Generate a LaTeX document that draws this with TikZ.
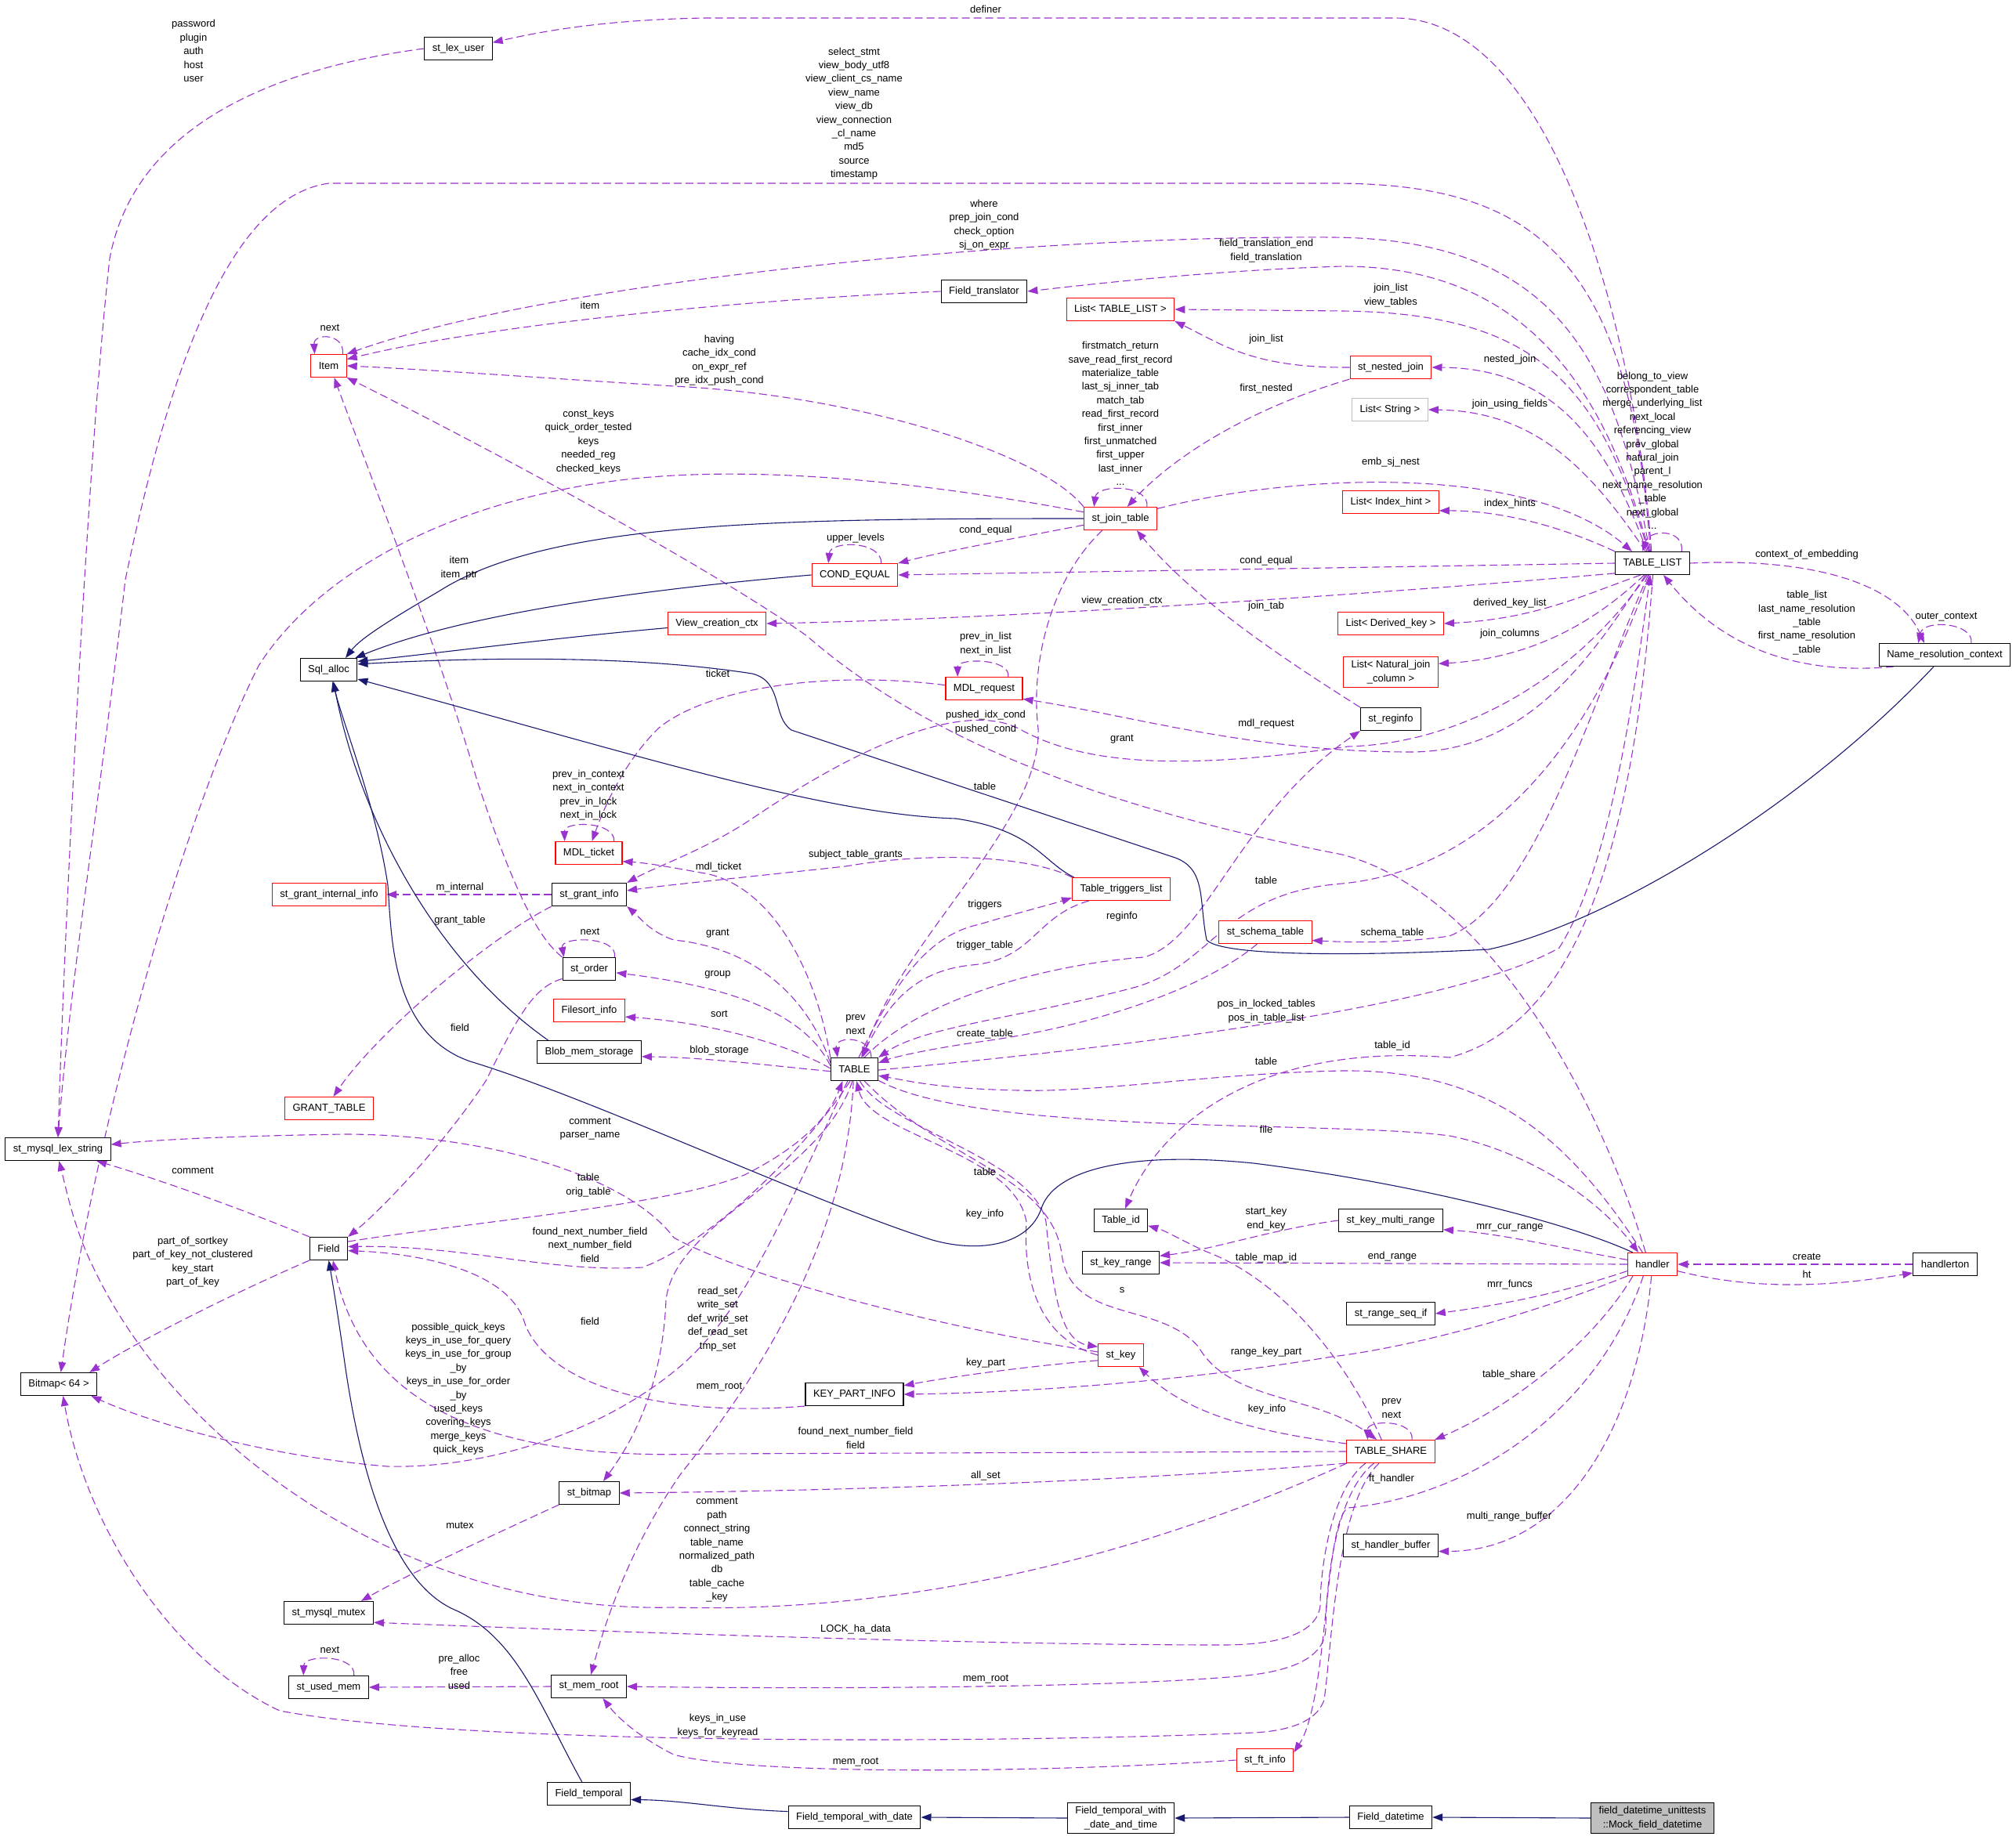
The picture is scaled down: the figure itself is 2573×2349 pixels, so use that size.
\documentclass[tikz,border=0pt]{standalone}
\usepackage{fontspec}
\setmainfont{Liberation Sans}
\usetikzlibrary{arrows.meta}
\definecolor{usecol}{HTML}{9A32CD}
\definecolor{inhcol}{HTML}{191970}
\definecolor{boxgrey}{HTML}{BFBFBF}
\newcommand\dxfont{\fontsize{13}{17.4}\selectfont}
\pgfdeclarelayer{paper}
\pgfdeclarelayer{edges}
\pgfsetlayers{paper,edges,main}

\begin{document}
\begin{tikzpicture}[
  x=1pt, y=-1pt,
  font=\dxfont,
  >={Triangle[length=13pt,width=9.5pt]},
  box/.style={draw=black, line width=1.1pt, fill=white, inner xsep=10pt,
              inner ysep=5pt, minimum height=29pt, align=center},
  redbox/.style={box, draw=red},
  greybox/.style={box, draw=boxgrey},
  use/.style={->, usecol, line width=1.1pt, dash pattern=on 10pt off 5pt},
  inh/.style={->, inhcol, line width=1.1pt},
  lbl/.style={align=center, inner sep=0pt},
]
  \begin{pgfonlayer}{paper}
    \fill[white] (0,0) rectangle (2573,2349);
  \end{pgfonlayer}
  \useasboundingbox (0,0) rectangle (2573,2349);

  % classes
  \node[box] (lexuser) at (585,62) {st\_lex\_user};
  \node[redbox] (item) at (419.5,467) {Item};
  \node[box] (fieldtr) at (1256,372) {Field\_translator};
  \node[redbox] (listtl) at (1430,395) {List< TABLE\_LIST >};
  \node[redbox] (nestjoin) at (1775,469) {st\_nested\_join};
  \node[greybox] (liststr) at (1774,523) {List< String >};
  \node[redbox] (listidx) at (1775,641) {List< Index\_hint >};
  \node[redbox] (jointab) at (1430,662) {st\_join\_table};
  \node[redbox] (condeq) at (1091,734) {COND\_EQUAL};
  \node[box] (tlist) at (2109,719) {TABLE\_LIST};
  \node[redbox] (viewctx) at (915,796) {View\_creation\_ctx};
  \node[redbox] (listdk) at (1775,796) {List< Derived\_key >};
  \node[redbox] (listnjc) at (1775,858) {List< Natural\_join\\\_column >};
  \node[box] (nrctx) at (2482,836) {Name\_resolution\_context};
  \node[box] (sqlalloc) at (419.5,855) {Sql\_alloc};
  \node[redbox] (mdlreq) at (1256,879) {MDL\_request};
  \node[box] (reginfo) at (1775,918) {st\_reginfo};
  \node[redbox] (mdlticket) at (751.5,1089) {MDL\_ticket};
  \node[redbox] (trigs) at (1431,1135) {Table\_triggers\_list};
  \node[redbox] (grantint) at (420,1142) {st\_grant\_internal\_info};
  \node[box] (grantinfo) at (752,1142) {st\_grant\_info};
  \node[redbox] (schema) at (1615,1190) {st\_schema\_table};
  \node[box] (order) at (752,1237) {st\_order};
  \node[redbox] (filesort) at (752,1290) {Filesort\_info};
  \node[box] (blob) at (752,1343) {Blob\_mem\_storage};
  \node[box] (tbl) at (1090.5,1365) {TABLE};
  \node[redbox] (granttab) at (420,1415) {GRANT\_TABLE};
  \node[box] (lexstr) at (74,1467) {st\_mysql\_lex\_string};
  \node[box] (tableid) at (1430.5,1558) {Table\_id};
  \node[box] (keymr) at (1775,1558) {st\_key\_multi\_range};
  \node[box] (field) at (419.5,1594) {Field};
  \node[box] (keyrange) at (1430.5,1612) {st\_key\_range};
  \node[redbox] (handler) at (2109,1614) {handler};
  \node[box] (hton) at (2482.5,1614) {handlerton};
  \node[box] (rangeseq) at (1775,1677) {st\_range\_seq\_if};
  \node[redbox] (stkey) at (1430.5,1730) {st\_key};
  \node[box] (bitmap) at (75,1767) {Bitmap< 64 >};
  \node[box] (kpi) at (1090.5,1780) {KEY\_PART\_INFO};
  \node[redbox] (tshare) at (1775,1853) {TABLE\_SHARE};
  \node[box] (stbitmap) at (752,1906) {st\_bitmap};
  \node[box] (hbuf) at (1775,1973) {st\_handler\_buffer};
  \node[box] (mutex) at (419.5,2059) {st\_mysql\_mutex};
  \node[box] (usedmem) at (419.5,2154) {st\_used\_mem};
  \node[box] (memroot) at (751.5,2153) {st\_mem\_root};
  \node[redbox] (ftinfo) at (1614.5,2247) {st\_ft\_info};
  \node[box] (ftemp) at (751.5,2290) {Field\_temporal};
  \node[box] (ftwd) at (1090.5,2320) {Field\_temporal\_with\_date};
  \node[box] (ftwdt) at (1430.5,2321) {Field\_temporal\_with\\\_date\_and\_time};
  \node[box] (fdt) at (1775,2320) {Field\_datetime};
  \node[box, fill=boxgrey] (mock) at (2109,2321) {field\_datetime\_unittests\\::Mock\_field\_datetime};

  \begin{pgfonlayer}{edges}
  % members
  \draw[use] (lexuser.west) .. controls (330,90) and (170,170) .. (140,330) .. controls (110,600) and (82,1200) .. (lexstr.north);
  \draw[use] (tlist.95) .. controls (2090,450) and (1990,23) .. (1780,23) -- (900,23) .. controls (780,25) and (700,38) .. (lexuser.10);
  \draw[use] (tlist.100) .. controls (2080,320) and (1950,234) .. (1700,234) -- (420,234) .. controls (300,250) and (220,450) .. (160,740) .. controls (130,1000) and (90,1250) .. (lexstr.north);
  \draw[use] (jointab.170) .. controls (1150,610) and (950,595) .. (800,612) .. controls (560,640) and (400,740) .. (330,850) .. controls (230,1050) and (120,1450) .. (bitmap.80);
  \draw[use] (tlist.103) .. controls (2060,450) and (1980,305) .. (1700,303) .. controls (1300,300) and (700,360) .. (item.north east);
  \draw[use] (tlist.106) .. controls (2050,500) and (1950,340) .. (1713,340) .. controls (1550,345) and (1400,362) .. (fieldtr.east);
  \draw[use] (fieldtr.west) .. controls (900,385) and (600,420) .. (item.20);
  \draw[use] (tlist.110) .. controls (2040,480) and (1950,400) .. (1713,397) -- (listtl.east);
  \draw[use] (nestjoin.west) .. controls (1600,470) and (1560,440) .. (listtl.south east);
  \draw[use] (tlist.115) .. controls (2050,560) and (1980,470) .. (nestjoin.east);
  \draw[use] (nestjoin.south west) .. controls (1600,520) and (1500,580) .. (jointab.60);
  \draw[use] (tlist.120) .. controls (2030,600) and (1960,525) .. (liststr.east);
  \draw[use] (jointab.15) .. controls (1650,605) and (1950,590) .. (tlist.150);
  \draw[use] (tlist.north west) .. controls (2010,680) and (1930,652) .. (listidx.350);
  \draw[use] (tlist.west) -- (condeq.east);
  \draw[use] (jointab.190) .. controls (1280,690) and (1200,705) .. (condeq.north east);
  \draw[use] (condeq.24) .. controls (1125,690) and (1060,690) .. (condeq.156);
  \draw[use] (jointab.24) .. controls (1468,618) and (1400,618) .. (jointab.156);
  \draw[use] (jointab.north west) .. controls (1330,580) and (1100,505) .. (860,493) .. controls (700,483) and (550,472) .. (item.east);
  \draw[use] (item.40) .. controls (440,425) and (400,425) .. (item.140);
  \draw[use] (order.north west) .. controls (690,1200) and (660,1150) .. (610,1000) .. controls (560,830) and (470,600) .. (item.-65);
  \draw[use] (order.25) .. controls (790,1195) and (715,1195) .. (order.155);
  \draw[use] (grantinfo.west) -- (grantint.east);
  \draw[use] (grantinfo.south west) .. controls (620,1200) and (480,1320) .. (granttab.70);
  \draw[use] (mdlticket.25) .. controls (785,1048) and (720,1048) .. (mdlticket.154);
  \draw[use] (mdlreq.175) .. controls (1050,855) and (900,880) .. (840,930) .. controls (800,970) and (775,1020) .. (mdlticket.75);
  \draw[use] (mdlreq.26) .. controls (1290,840) and (1222,840) .. (mdlreq.156);
  \draw[use] (tlist.240) .. controls (2030,840) and (1950,960) .. (1800,960) .. controls (1600,960) and (1450,915) .. (mdlreq.-15);
  \draw[use] (tlist.245) .. controls (2000,880) and (1850,950) .. (1720,953) .. controls (1500,985) and (1380,975) .. (1300,930) .. controls (1230,895) and (1100,950) .. (960,1045) .. controls (900,1085) and (840,1105) .. (grantinfo.north east);
  \draw[use] (jointab.213) .. controls (1340,740) and (1315,850) .. (1325,930) .. controls (1330,1050) and (1150,1200) .. (tbl.55);
  \draw[use] (tlist.195) .. controls (1800,755) and (1300,790) .. (viewctx.east);
  \draw[use] (reginfo.north west) .. controls (1620,830) and (1520,760) .. (jointab.-36);
  \draw[use] (tlist.225) .. controls (2020,760) and (1960,790) .. (listdk.east);
  \draw[use] (tlist.235) .. controls (2040,790) and (1960,840) .. (listnjc.10);
  \draw[use] (tlist.east) .. controls (2300,712) and (2420,740) .. (nrctx.150);
  \draw[use] (nrctx.193) .. controls (2300,862) and (2200,830) .. (tlist.-47);
  \draw[use] (nrctx.24) .. controls (2520,795) and (2455,790) .. (nrctx.156);
  \draw[use] (tlist.22) .. controls (2150,675) and (2105,675) .. (tlist.130);
  \draw[use] (tlist.250) .. controls (2030,900) and (1960,1150) .. (1850,1195) .. controls (1780,1205) and (1720,1203) .. (schema.-10);
  \draw[use] (tlist.255) .. controls (2030,950) and (1900,1110) .. (1713,1128) .. controls (1560,1140) and (1550,1230) .. (1450,1260) .. controls (1300,1300) and (1180,1310) .. (tbl.north east);
  \draw[use] (tbl.50) .. controls (1180,1270) and (1350,1230) .. (1460,1222) .. controls (1540,1200) and (1580,1040) .. (reginfo.south west);
  \draw[use] (trigs.200) .. controls (1320,1170) and (1320,1225) .. (1240,1232) .. controls (1160,1240) and (1130,1290) .. (tbl.60);
  \draw[use] (tbl.70) .. controls (1140,1260) and (1180,1195) .. (1250,1180) .. controls (1300,1165) and (1340,1155) .. (trigs.190);
  \draw[use] (trigs.north west) .. controls (1320,1095) and (1200,1085) .. (1079,1106) .. controls (950,1120) and (850,1130) .. (grantinfo.6);
  \draw[use] (tbl.north west) .. controls (1040,1230) and (980,1130) .. (900,1115) .. controls (860,1108) and (830,1102) .. (mdlticket.-14);
  \draw[use] (tbl.165) .. controls (1030,1270) and (960,1210) .. (860,1200) .. controls (830,1190) and (815,1170) .. (grantinfo.south east);
  \draw[use] (tbl.172) .. controls (1030,1300) and (950,1262) .. (order.-8);
  \draw[use] (tbl.178) .. controls (1000,1330) and (900,1305) .. (filesort.-10);
  \draw[use] (tbl.185) .. controls (980,1360) and (900,1350) .. (blob.-5);
  \draw[use] (tbl.35) .. controls (1112,1322) and (1065,1322) .. (tbl.145);
  \draw[use] (tbl.-2) .. controls (1400,1340) and (1850,1290) .. (1990,1210) .. controls (2060,1100) and (2090,850) .. (tlist.-100);
  \draw[use] (tbl.-25) .. controls (1250,1450) and (1700,1430) .. (1850,1450) .. controls (1950,1470) and (2040,1530) .. (handler.140);
  \draw[use] (handler.130) .. controls (2000,1450) and (1900,1365) .. (1713,1367) .. controls (1550,1370) and (1400,1395) .. (1300,1392) .. controls (1200,1390) and (1160,1380) .. (tbl.-15);
  \draw[use] (handler.120) .. controls (2040,1400) and (1900,1140) .. (1713,1091) .. controls (1450,1040) and (1200,960) .. (1030,812) .. controls (900,720) and (600,560) .. (item.south east);
  \draw[use] (tlist.-88) .. controls (2090,1000) and (2040,1300) .. (1850,1350) .. controls (1600,1330) and (1480,1440) .. (tableid.70);
  \draw[use] (tbl.-65) .. controls (1130,1440) and (1320,1480) .. (1335,1560) .. controls (1345,1660) and (1355,1712) .. (stkey.160);
  \draw[use] (stkey.180) .. controls (1330,1710) and (1305,1640) .. (1310,1560) .. controls (1295,1470) and (1110,1450) .. (tbl.-80);
  \draw[use] (tbl.-50) .. controls (1200,1480) and (1340,1500) .. (1355,1600) .. controls (1365,1690) and (1480,1660) .. (1530,1720) .. controls (1570,1790) and (1680,1780) .. (tshare.140);
  \draw[use] (schema.-125) .. controls (1540,1260) and (1400,1310) .. (1250,1330) .. controls (1180,1340) and (1140,1350) .. (tbl.15);
  \draw[use] (keymr.west) .. controls (1620,1570) and (1550,1595) .. (keyrange.10);
  \draw[use] (handler.west) -- (keyrange.east);
  \draw[use] (tshare.128) .. controls (1730,1760) and (1650,1640) .. (1540,1598) .. controls (1510,1585) and (1490,1572) .. (tableid.-11);
  \draw[use] (tshare.170) .. controls (1620,1830) and (1520,1810) .. (stkey.-33);
  \draw[use] (stkey.193) .. controls (1300,1745) and (1200,1760) .. (kpi.10);
  \draw[use] (handler.south west) .. controls (1950,1680) and (1800,1720) .. (1700,1732) .. controls (1500,1765) and (1300,1778) .. (kpi.east);
  \draw[use] (kpi.south west) .. controls (850,1810) and (700,1770) .. (670,1690) .. controls (650,1620) and (530,1600) .. (field.-6);
  \draw[use] (tbl.-110) .. controls (1040,1450) and (920,1580) .. (820,1618) .. controls (700,1625) and (600,1590) .. (field.6);
  \draw[use] (field.20) .. controls (600,1560) and (850,1540) .. (950,1500) .. controls (1030,1460) and (1060,1420) .. (tbl.-135);
  \draw[use] (order.200) .. controls (680,1260) and (660,1300) .. (620,1380) .. controls (560,1470) and (480,1550) .. (field.north east);
  \draw[use] (field.north west) .. controls (300,1540) and (200,1505) .. (lexstr.-17);
  \draw[use] (field.south west) .. controls (300,1650) and (180,1710) .. (bitmap.21);
  \draw[use] (tbl.-120) .. controls (1000,1550) and (950,1680) .. (860,1751) .. controls (750,1840) and (600,1875) .. (494,1872) .. controls (350,1860) and (200,1820) .. (bitmap.-20);
  \draw[use] (tbl.-100) .. controls (1050,1500) and (860,1560) .. (850,1660) .. controls (845,1780) and (800,1850) .. (stbitmap.40);
  \draw[use] (tbl.-95) .. controls (1080,1600) and (950,1780) .. (870,1880) .. controls (800,1980) and (770,2080) .. (memroot.80);
  \draw[use] (tshare.180) -- (900,1856) .. controls (600,1866) and (460,1780) .. (field.-70);
  \draw[use] (tshare.south west) .. controls (1450,1890) and (1100,1903) .. (stbitmap.east);
  \draw[use] (tshare.-165) .. controls (1450,1990) and (1150,2060) .. (860,2052) .. controls (520,2060) and (230,1850) .. (120,1620) .. controls (95,1570) and (85,1520) .. (lexstr.-85);
  \draw[use] (tshare.-155) .. controls (1700,1900) and (1685,2000) .. (1685,2050) .. controls (1680,2090) and (1620,2100) .. (1560,2100) .. controls (1300,2100) and (900,2088) .. (mutex.-12);
  \draw[use] (tshare.-145) .. controls (1700,1910) and (1692,2040) .. (1692,2080) .. controls (1690,2120) and (1640,2135) .. (1580,2140) .. controls (1400,2156) and (1000,2156) .. (memroot.east);
  \draw[use] (tshare.-135) .. controls (1705,1920) and (1700,2100) .. (1690,2170) .. controls (1680,2200) and (1640,2210) .. (1600,2212) .. controls (1300,2225) and (600,2230) .. (357,2184) .. controls (220,2120) and (110,1950) .. (bitmap.-70);
  \draw[use] (handler.-128) .. controls (2040,1800) and (1880,1910) .. (1720,1925) .. controls (1690,1945) and (1695,2170) .. (ftinfo.15);
  \draw[use] (ftinfo.west) .. controls (1300,2265) and (950,2265) .. (860,2240) .. controls (820,2220) and (790,2195) .. (memroot.-40);
  \draw[use] (stbitmap.south west) .. controls (650,1950) and (520,2010) .. (mutex.20);
  \draw[use] (memroot.west) -- (usedmem.east);
  \draw[use] (usedmem.25) .. controls (455,2112) and (388,2112) .. (usedmem.155);
  \draw[use] (tshare.29) .. controls (1805,1812) and (1745,1812) .. (tshare.153);
  \draw[use] (handler.-149) .. controls (2030,1720) and (1920,1800) .. (tshare.15);
  \draw[use] (handler.170) .. controls (2000,1595) and (1920,1575) .. (keymr.-10);
  \draw[use] (handler.-165) .. controls (1980,1655) and (1900,1668) .. (rangeseq.east);
  \draw[use] (handler.-95) .. controls (2090,1820) and (2000,1980) .. (hbuf.-7);
  \draw[use] (hton.west) -- (handler.east);
  \draw[use] (handler.-15) .. controls (2250,1650) and (2350,1640) .. (hton.195);
  \draw[use] (stkey.172) .. controls (1200,1695) and (950,1630) .. (860,1580) .. controls (800,1500) and (620,1448) .. (440,1448) .. controls (300,1450) and (200,1455) .. (lexstr.5);

  % inheritance
  \draw[inh] (mock.west) -- (fdt.east);
  \draw[inh] (fdt.west) -- (ftwdt.east);
  \draw[inh] (ftwdt.west) -- (ftwd.east);
  \draw[inh] (ftwd.175) .. controls (930,2310) and (870,2298) .. (ftemp.-8);
  \draw[inh] (ftemp.120) .. controls (690,2180) and (660,2090) .. (580,2055) .. controls (500,2020) and (460,1880) .. (440,1740) .. controls (430,1670) and (425,1640) .. (field.south);
  \draw[inh] (jointab.west) .. controls (1000,662) and (700,665) .. (560,755) .. controls (500,790) and (460,815) .. (sqlalloc.35);
  \draw[inh] (condeq.west) .. controls (850,750) and (600,780) .. (sqlalloc.24);
  \draw[inh] (viewctx.185) .. controls (700,815) and (550,835) .. (sqlalloc.16);
  \draw[inh] (nrctx.-133) .. controls (2300,1030) and (2050,1180) .. (1900,1212) .. controls (1750,1220) and (1560,1222) .. (1540,1200) .. controls (1530,1150) and (1540,1110) .. (1500,1095) -- (1010,932) .. controls (985,915) and (1000,870) .. (960,860) .. controls (800,835) and (600,840) .. (sqlalloc.11);
  \draw[inh] (trigs.166) .. controls (1330,1100) and (1320,1060) .. (1220,1045) .. controls (1050,1040) and (800,960) .. (sqlalloc.-18);
  \draw[inh] (blob.164) .. controls (560,1230) and (460,1050) .. (sqlalloc.-68);
  \draw[inh] (handler.149) .. controls (2000,1560) and (1800,1510) .. (1600,1485) .. controls (1450,1470) and (1350,1490) .. (1330,1540) .. controls (1315,1590) and (1250,1600) .. (1190,1583) .. controls (1050,1540) and (750,1400) .. (600,1355) .. controls (500,1320) and (500,1200) .. (495,1130) .. controls (480,1030) and (440,930) .. (sqlalloc.-72);
  \end{pgfonlayer}

  % member labels
  \node[lbl] (l-pw) at (247,65) {password\\plugin\\auth\\host\\user};
  \node[lbl] (l-definer) at (1258,12) {definer};
  \node[lbl] (l-view) at (1090,145) {select\_stmt\\view\_body\_utf8\\view\_client\_cs\_name\\view\_name\\view\_db\\view\_connection\\\_cl\_name\\md5\\source\\timestamp};
  \node[lbl] (l-where) at (1256,287) {where\\prep\_join\_cond\\check\_option\\sj\_on\_expr};
  \node[lbl] (l-ftrans) at (1616,320) {field\_translation\_end\\field\_translation};
  \node[lbl] (l-item) at (753,390) {item};
  \node[lbl] (l-joinlist) at (1775,377) {join\_list\\view\_tables};
  \node[lbl] (l-joinlist2) at (1616,433) {join\_list};
  \node[lbl] (l-nested) at (1927,459) {nested\_join};
  \node[lbl] (l-having) at (918,460) {having\\cache\_idx\_cond\\on\_expr\_ref\\pre\_idx\_push\_cond};
  \node[lbl] (l-firstmatch) at (1430,528) {firstmatch\_return\\save\_read\_first\_record\\materialize\_table\\last\_sj\_inner\_tab\\match\_tab\\read\_first\_record\\first\_inner\\first\_unmatched\\first\_upper\\last\_inner\\...};
  \node[lbl] (l-firstnested) at (1616,496) {first\_nested};
  \node[lbl] (l-usingf) at (1927,516) {join\_using\_fields};
  \node[lbl] (l-belong) at (2109,575) {belong\_to\_view\\correspondent\_table\\merge\_underlying\_list\\next\_local\\referencing\_view\\prev\_global\\natural\_join\\parent\_l\\next\_name\_resolution\\\_table\\next\_global\\...};
  \node[lbl] (l-constkeys) at (751,564) {const\_keys\\quick\_order\_tested\\keys\\needed\_reg\\checked\_keys};
  \node[lbl] (l-embsj) at (1775,590) {emb\_sj\_nest};
  \node[lbl] (l-idxhints) at (1927,643) {index\_hints};
  \node[lbl] (l-itemnext) at (421,418) {next};
  \node[lbl] (l-upper) at (1092,687) {upper\_levels};
  \node[lbl] (l-condeq1) at (1258,677) {cond\_equal};
  \node[lbl] (l-condeq2) at (1616,716) {cond\_equal};
  \node[lbl] (l-ctxemb) at (2306,708) {context\_of\_embedding};
  \node[lbl] (l-itemptr) at (586,725) {item\\item\_ptr};
  \node[lbl] (l-viewctx) at (1432,767) {view\_creation\_ctx};
  \node[lbl] (l-jointab) at (1616,774) {join\_tab};
  \node[lbl] (l-dkl) at (1927,770) {derived\_key\_list};
  \node[lbl] (l-tablelist) at (2306,795) {table\_list\\last\_name\_resolution\\\_table\\first\_name\_resolution\\\_table};
  \node[lbl] (l-outer) at (2484,788) {outer\_context};
  \node[lbl] (l-joincols) at (1927,809) {join\_columns};
  \node[lbl] (l-inlist) at (1258,822) {prev\_in\_list\\next\_in\_list};
  \node[lbl] (l-ticket) at (916,860) {ticket};
  \node[lbl] (l-pushed) at (1258,922) {pushed\_idx\_cond\\pushed\_cond};
  \node[lbl] (l-mdlreq) at (1616,924) {mdl\_request};
  \node[lbl] (l-grant1) at (1432,944) {grant};
  \node[lbl] (l-table1) at (1257,1004) {table};
  \node[lbl] (l-inctx) at (751,1015) {prev\_in\_context\\next\_in\_context\\prev\_in\_lock\\next\_in\_lock};
  \node[lbl] (l-subject) at (1092,1091) {subject\_table\_grants};
  \node[lbl] (l-mdlticket) at (917,1107) {mdl\_ticket};
  \node[lbl] (l-table2) at (1616,1124) {table};
  \node[lbl] (l-minternal) at (587,1133) {m\_internal};
  \node[lbl] (l-triggers) at (1257,1155) {triggers};
  \node[lbl] (l-reginfo) at (1432,1170) {reginfo};
  \node[lbl] (l-granttab) at (587,1175) {grant\_table};
  \node[lbl] (l-ordernext) at (753,1189) {next};
  \node[lbl] (l-schema) at (1777,1191) {schema\_table};
  \node[lbl] (l-grant2) at (916,1192) {grant};
  \node[lbl] (l-trigtab) at (1257,1207) {trigger\_table};
  \node[lbl] (l-group) at (916,1244) {group};
  \node[lbl] (l-posin) at (1616,1291) {pos\_in\_locked\_tables\\pos\_in\_table\_list};
  \node[lbl] (l-sort) at (918,1294) {sort};
  \node[lbl] (l-tblprev) at (1092,1308) {prev\\next};
  \node[lbl] (l-field1) at (587,1312) {field};
  \node[lbl] (l-create) at (1257,1320) {create\_table};
  \node[lbl] (l-tableid) at (1777,1335) {table\_id};
  \node[lbl] (l-blob) at (918,1341) {blob\_storage};
  \node[lbl] (l-table3) at (1616,1355) {table};
  \node[lbl] (l-comment1) at (753,1441) {comment\\parser\_name};
  \node[lbl] (l-file) at (1616,1442) {file};
  \node[lbl] (l-comment2) at (246,1494) {comment};
  \node[lbl] (l-table4) at (1257,1496) {table};
  \node[lbl] (l-origtab) at (751,1513) {table\\orig\_table};
  \node[lbl] (l-keyinfo1) at (1257,1550) {key\_info};
  \node[lbl] (l-startkey) at (1616,1556) {start\_key\\end\_key};
  \node[lbl] (l-mrrcur) at (1927,1567) {mrr\_cur\_range};
  \node[lbl] (l-fnnf1) at (753,1589) {found\_next\_number\_field\\next\_number\_field\\field};
  \node[lbl] (l-endrange) at (1777,1604) {end\_range};
  \node[lbl] (l-hcreate) at (2306,1604) {create};
  \node[lbl] (l-tmapid) at (1616,1606) {table\_map\_id};
  \node[lbl] (l-sortkey) at (246,1611) {part\_of\_sortkey\\part\_of\_key\_not\_clustered\\key\_start\\part\_of\_key};
  \node[lbl] (l-ht) at (2306,1627) {ht};
  \node[lbl] (l-mrrfuncs) at (1927,1640) {mrr\_funcs};
  \node[lbl] (l-s) at (1432,1647) {s};
  \node[lbl] (l-readset) at (916,1684) {read\_set\\write\_set\\def\_write\_set\\def\_read\_set\\tmp\_set};
  \node[lbl] (l-field2) at (753,1687) {field};
  \node[lbl] (l-rangekp) at (1616,1726) {range\_key\_part};
  \node[lbl] (l-keypart) at (1258,1740) {key\_part};
  \node[lbl] (l-tshare) at (1926,1755) {table\_share};
  \node[lbl] (l-memroot1) at (918,1771) {mem\_root};
  \node[lbl] (l-quickkeys) at (585,1773) {possible\_quick\_keys\\keys\_in\_use\_for\_query\\keys\_in\_use\_for\_group\\\_by\\keys\_in\_use\_for\_order\\\_by\\used\_keys\\covering\_keys\\merge\_keys\\quick\_keys};
  \node[lbl] (l-tsprev) at (1776,1798) {prev\\next};
  \node[lbl] (l-keyinfo2) at (1617,1799) {key\_info};
  \node[lbl] (l-fnnf2) at (1092,1836) {found\_next\_number\_field\\field};
  \node[lbl] (l-allset) at (1258,1884) {all\_set};
  \node[lbl] (l-fthandler) at (1776,1888) {ft\_handler};
  \node[lbl] (l-mrbuf) at (1926,1936) {multi\_range\_buffer};
  \node[lbl] (l-mutex) at (587,1947) {mutex};
  \node[lbl] (l-path) at (915,1979) {comment\\path\\connect\_string\\table\_name\\normalized\_path\\db\\table\_cache\\\_key};
  \node[lbl] (l-lockha) at (1092,2080) {LOCK\_ha\_data};
  \node[lbl] (l-usednext) at (421,2106) {next};
  \node[lbl] (l-prealloc) at (586,2134) {pre\_alloc\\free\\used};
  \node[lbl] (l-memroot2) at (1258,2144) {mem\_root};
  \node[lbl] (l-keysinuse) at (916,2203) {keys\_in\_use\\keys\_for\_keyread};
  \node[lbl] (l-memroot3) at (1092,2250) {mem\_root};
\end{tikzpicture}
\end{document}
